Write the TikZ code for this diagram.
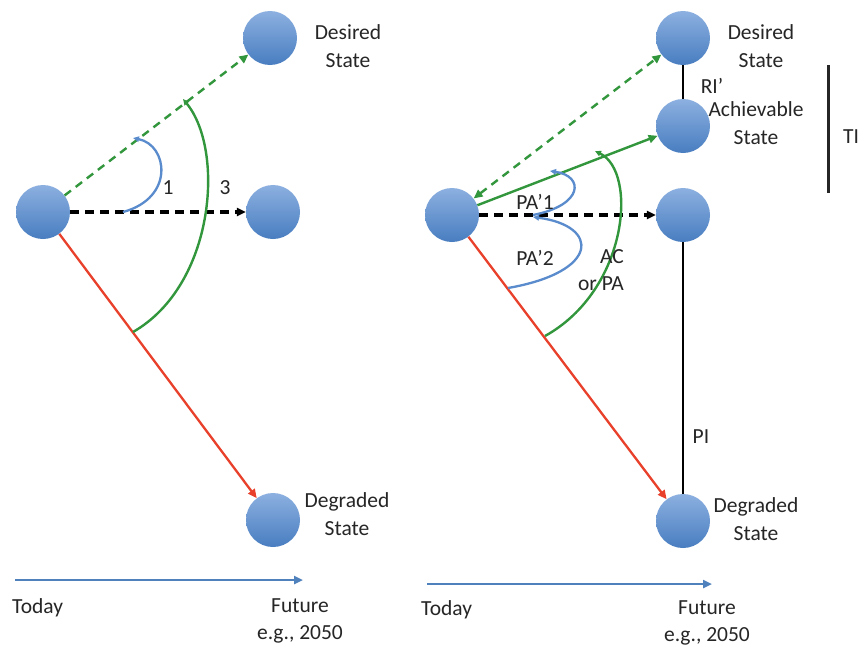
\documentclass[tikz,border=0pt]{standalone}
\usepackage{fontspec}
\setmainfont{Carlito}
\usetikzlibrary{arrows.meta}
\definecolor{ballTop}{RGB}{140,176,224}
\definecolor{ballBot}{RGB}{72,125,192}
\definecolor{grn}{RGB}{50,150,60}
\definecolor{rd}{RGB}{232,64,42}
\definecolor{bl}{RGB}{90,140,205}
\definecolor{tl}{RGB}{79,129,189}
\tikzset{
  ball/.style={circle,minimum size=54pt,inner sep=0pt,top color=ballTop,bottom color=ballBot,draw=none},
  lbl/.style={font=\fontsize{21.5}{27.5}\selectfont,align=center,inner sep=0pt,text=black!85},
  tip/.style={-{Triangle[length=9pt,width=8pt]}},
  tipb/.style={{Triangle[length=9pt,width=8pt]}-{Triangle[length=9pt,width=8pt]}},
  smalltip/.style={-{Triangle[length=6pt,width=5.5pt]}},
  gline/.style={grn,line width=2.4pt},
  rline/.style={rd,line width=2.3pt},
  kdash/.style={black,line width=3.8pt,dash pattern=on 9pt off 6pt},
  barc/.style={bl,line width=2.3pt},
  vline/.style={black,line width=2.2pt},
  tline/.style={tl,line width=2.7pt}
}
\begin{document}
\begin{tikzpicture}[x=1pt,y=-1pt]
\useasboundingbox[fill=white] (0,0) rectangle (860,648);
% ---------- left panel ----------
\node[ball] (Ls) at (43,212) {};
\node[ball] (Ld) at (270,38) {};
\node[ball] (Lm) at (273,212) {};
\node[ball] (Lg) at (273,520) {};
\draw[gline,tip,dash pattern=on 8pt off 6pt] (Ls) -- (Ld);
\draw[kdash,tip] (Ls) -- (Lm);
\draw[rline,tip] (Ls) -- (Lg);
\coordinate (L1a) at (123,212);
\coordinate (L1b) at (133,138);
\draw[barc,smalltip] (L1a) .. controls (175,198) and (168,145) .. (L1b);
\coordinate (L3a) at (133,332);
\coordinate (L3b) at (183,99);
\draw[gline,smalltip] (L3a) .. controls (215,285) and (225,150) .. (L3b);
\node[lbl] (n1) at (168,188) {1};
\node[lbl] (n3) at (225,188) {3};
\node[lbl] (Ldt) at (348,46) {Desired\\State};
\node[lbl] (Lgt) at (347,514) {Degraded\\State};
% timeline left
\coordinate (Lt0) at (15,580);
\coordinate (Lt1) at (303,580);
\draw[tline,tip] (Lt0) -- (Lt1);
\node[lbl,anchor=west] (Ltoday) at (12,608) {Today};
\node[lbl] (Lfut) at (300,621) {Future\\e.g., 2050};
% ---------- right panel ----------
\node[ball] (Rs) at (452,215) {};
\node[ball] (Rd) at (683,38) {};
\node[ball] (Ra) at (683,126) {};
\node[ball] (Rm) at (683,215) {};
\node[ball] (Rg) at (683,521) {};
\draw[vline] (Rd) -- (Ra);
\draw[vline] (Rm) -- (Rg);
\draw[gline,tipb,dash pattern=on 8pt off 6pt] (Rs) -- (Rd);
\draw[gline,tip] (Rs) -- (Ra);
\draw[kdash,tip] (Rs) -- (Rm);
\draw[rline,tip] (Rs) -- (Rg);
\coordinate (P1a) at (533,215);
\coordinate (P1b) at (550,171);
\draw[barc,smalltip] (P1a) .. controls (584,205) and (584,176) .. (P1b);
\coordinate (P2a) at (508,288);
\coordinate (P2b) at (533,217);
\draw[barc,smalltip] (P2a) .. controls (600,272) and (600,226) .. (P2b);
\coordinate (ACa) at (545,336);
\coordinate (ACb) at (595,151);
\draw[gline,smalltip] (ACa) .. controls (628,290) and (638,172) .. (ACb);
\node[lbl] (pa1) at (535,202) {PA’1};
\node[lbl] (pa2) at (535,258) {PA’2};
\node[lbl,align=right,anchor=east] (ac) at (624,270) {AC\\or PA};
\node[lbl] (Rdt) at (761,46) {Desired\\State};
\node[lbl] (ri) at (712,86) {RI’};
\node[lbl] (Rat) at (756,123) {Achievable\\State};
\node[lbl] (pi) at (701,437) {PI};
\node[lbl] (Rgt) at (756,519) {Degraded\\State};
\coordinate (TIa) at (828,65);
\coordinate (TIb) at (828,193);
\draw[black!85,line width=3pt] (TIa) -- (TIb);
\node[lbl,anchor=west] (ti) at (843,137) {TI};
% timeline right
\coordinate (Rt0) at (427,584);
\coordinate (Rt1) at (712,584);
\draw[tline,tip] (Rt0) -- (Rt1);
\node[lbl,anchor=west] (Rtoday) at (421,610) {Today};
\node[lbl] (Rfut) at (707,623) {Future\\e.g., 2050};
\end{tikzpicture}
\end{document}
